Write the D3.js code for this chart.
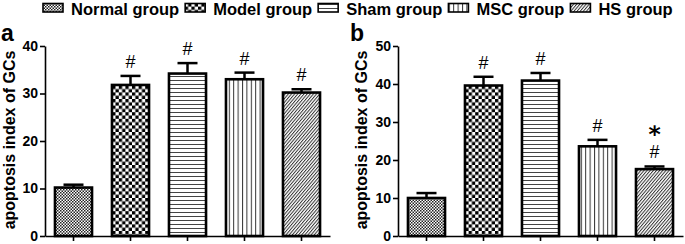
<!DOCTYPE html>
<html><head><meta charset="utf-8">
<script src="https://cdn.jsdelivr.net/npm/d3@7"></script>
<style>
html,body{margin:0;padding:0;background:#fff;}
svg{display:block;font-family:Arial,"Liberation Sans",sans-serif;}
</style></head>
<body>
<script>
const groups = ["Normal group", "Model group", "Sham group", "MSC group", "HS group"];
const patternIds = ["p-normal", "p-model", "p-sham", "p-msc", "p-hs"];
const meansA = [10.2, 31.8, 34.2, 33.0, 30.2];
const errA = [0.6, 1.9, 2.2, 1.4, 0.7];
const marksA = ["", "#", "#", "#", "#"];
const starsA = ["", "", "", "", ""];
const meansB = [10.0, 39.6, 40.9, 23.6, 17.6];
const errB = [1.3, 2.3, 2.0, 1.7, 0.7];
const marksB = ["", "#", "#", "#", "#"];
const starsB = ["", "", "", "", "\u204E"];
const yTicksA = [0, 10, 20, 30, 40];
const yTicksB = [0, 10, 20, 30, 40, 50];
const yTitle = "apoptosis index of GCs";

const W = 685, H = 244;
const svg = d3.select("body").append("svg").attr("width", W).attr("height", H);
const defs = svg.append("defs");

// patterns
const pn = defs.append("pattern").attr("id", "p-normal").attr("patternUnits", "userSpaceOnUse").attr("width", 3).attr("height", 3);
pn.append("rect").attr("width", 3).attr("height", 3).attr("fill", "#fff");
pn.append("rect").attr("width", 1.5).attr("height", 1.5).attr("fill", "#222");
pn.append("rect").attr("x", 1.5).attr("y", 1.5).attr("width", 1.5).attr("height", 1.5).attr("fill", "#222");

const pm = defs.append("pattern").attr("id", "p-model").attr("patternUnits", "userSpaceOnUse").attr("width", 6.6).attr("height", 6.6);
pm.append("rect").attr("width", 6.6).attr("height", 6.6).attr("fill", "#fff");
pm.append("rect").attr("width", 3.3).attr("height", 3.3).attr("fill", "#000");
pm.append("rect").attr("x", 3.3).attr("y", 3.3).attr("width", 3.3).attr("height", 3.3).attr("fill", "#000");

const ps = defs.append("pattern").attr("id", "p-sham").attr("patternUnits", "userSpaceOnUse").attr("width", 4).attr("height", 4);
ps.append("rect").attr("width", 4).attr("height", 4).attr("fill", "#fff");
ps.append("rect").attr("y", 0).attr("width", 4).attr("height", 1).attr("fill", "#444");

const pv = defs.append("pattern").attr("id", "p-msc").attr("patternUnits", "userSpaceOnUse").attr("width", 4.4).attr("height", 4);
pv.append("rect").attr("width", 4.4).attr("height", 4).attr("fill", "#fff");
pv.append("rect").attr("x", 0).attr("width", 1).attr("height", 4).attr("fill", "#333");

const ph = defs.append("pattern").attr("id", "p-hs").attr("patternUnits", "userSpaceOnUse").attr("width", 2.4).attr("height", 4).attr("patternTransform", "rotate(40)");
ph.append("rect").attr("width", 2.4).attr("height", 4).attr("fill", "#fff");
ph.append("rect").attr("x", 0).attr("width", 1).attr("height", 4).attr("fill", "#333");

// legend
const legend = svg.append("g");
let lx = 43;
groups.forEach((g, i) => {
  legend.append("rect").attr("x", lx).attr("y", 3.5).attr("width", 20).attr("height", 8.5)
    .attr("fill", `url(#${patternIds[i]})`).attr("stroke", "#000").attr("stroke-width", 1.6);
  const t = legend.append("text").attr("x", lx + 28).attr("y", 14.5)
    .attr("font-size", 16.5).attr("font-weight", "bold").text(g);
  lx = lx + 28 + t.node().getComputedTextLength() + 6;
});

// glyph metrics for the star marker (placed by its visible shape)
const starFont = "'DejaVu Sans'";
function metrics(ch, font) {
  const ctx = document.createElement("canvas").getContext("2d");
  ctx.font = font;
  return ctx.measureText(ch);
}

function panel(x0, x1, label, labelX, titleX, means, errs, marks, stars, ticks) {
  const yBot = 236, yTop = 46;
  const x = d3.scaleBand().domain(groups).range([x0, x1]).paddingInner(0.35).paddingOuter(0.175);
  const y = d3.scaleLinear().domain([0, ticks[ticks.length - 1]]).range([yBot, yTop]);
  const g = svg.append("g");

  const bw = x.bandwidth();
  groups.forEach((name, i) => {
    const cx = x(name) + bw / 2;
    const yErr = y(means[i] + errs[i]);
    g.append("line").attr("x1", cx).attr("x2", cx).attr("y1", y(means[i])).attr("y2", yErr)
      .attr("stroke", "#000").attr("stroke-width", 2.5);
    g.append("line").attr("x1", cx - 10).attr("x2", cx + 10).attr("y1", yErr).attr("y2", yErr)
      .attr("stroke", "#000").attr("stroke-width", 2.5);
    g.append("rect").attr("x", x(name)).attr("y", y(means[i])).attr("width", bw).attr("height", y(0) - y(means[i]))
      .attr("fill", `url(#${patternIds[i]})`).attr("stroke", "#000").attr("stroke-width", 2.6);
    let hashTop = yErr;
    if (marks[i]) {
      const tb = g.append("text").attr("x", cx).attr("y", yErr - 8).attr("text-anchor", "middle")
        .attr("font-size", 18).text(marks[i]);
      hashTop = tb.node().getBBox().y;
    }
    if (stars[i]) {
      const m = metrics(stars[i], `bold 100px ${starFont}`);
      let hgt = m.actualBoundingBoxAscent + m.actualBoundingBoxDescent;
      if (!(hgt > 0)) hgt = 40;
      const s = 100 * 11 / hgt;
      const inkTop = yErr - 38.5;
      let base = inkTop + (m.actualBoundingBoxAscent || 0) * s / 100;
      const st = g.append("text").attr("x", cx).attr("y", base).attr("text-anchor", "middle")
        .attr("font-family", starFont).attr("font-weight", "bold")
        .attr("font-size", s).text(stars[i]);
      const bb = st.node().getBBox();
      const over = bb.y + bb.height - (hashTop - 0.5);
      if (over > 0) st.attr("y", base - over);
    }
  });

  const ya = g.append("g").attr("transform", `translate(${x0},0)`)
    .call(d3.axisLeft(y).tickValues(ticks).tickSize(5).tickSizeOuter(0).tickPadding(2));
  ya.select(".domain").attr("stroke-width", 1.6);
  ya.selectAll(".tick line").attr("stroke-width", 1.6);
  ya.selectAll(".tick text").attr("font-size", 14).attr("font-weight", "bold").attr("fill", "#000")
    .attr("font-family", "Arial, 'Liberation Sans', sans-serif");

  const xa = g.append("g").attr("transform", `translate(0,${yBot})`)
    .call(d3.axisBottom(x).tickSize(5).tickSizeOuter(0).tickFormat(""));
  xa.select(".domain").attr("stroke-width", 1.6);
  xa.selectAll(".tick line").attr("stroke-width", 1.6);

  g.append("text").attr("transform", `translate(${titleX},${(yTop + yBot) / 2 - 1}) rotate(-90)`)
    .attr("text-anchor", "middle").attr("font-size", 16).attr("font-weight", "bold").text(yTitle);
  g.append("text").attr("x", labelX).attr("y", 41).attr("font-size", 23).attr("font-weight", "bold").text(label);
}

panel(45, 330, "a", 1, 15, meansA, errA, marksA, starsA, yTicksA);
panel(398, 683, "b", 350, 367, meansB, errB, marksB, starsB, yTicksB);
</script>
</body></html>
